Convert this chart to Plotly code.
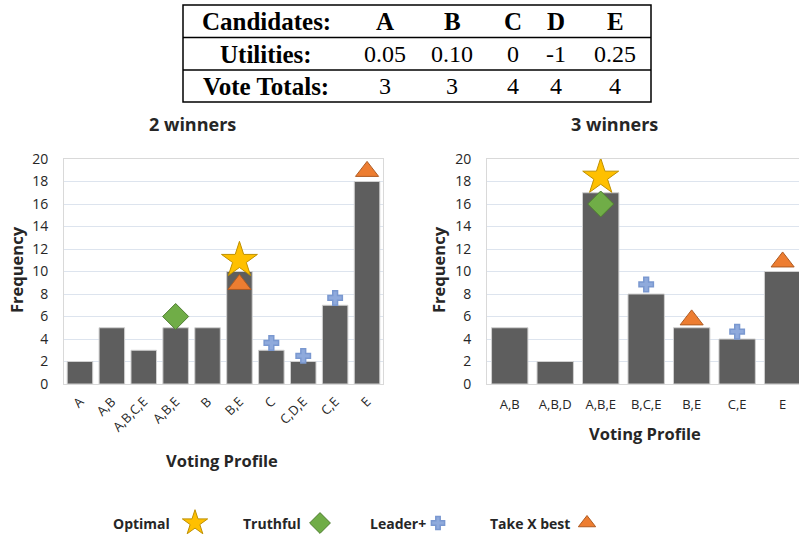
import plotly.graph_objects as go

# ---- table data ----
candidates = ["A", "B", "C", "D", "E"]
utilities = ["0.05", "0.10", "0", "-1", "0.25"]
vote_totals = ["3", "3", "4", "4", "4"]
row_labels = ["Candidates:", "Utilities:", "Vote Totals:"]

# ---- 2 winners ----
profiles_2 = ["A", "A,B", "A,B,C,E", "A,B,E", "B", "B,E", "C", "C,D,E", "C,E", "E"]
freq_2 = [2, 5, 3, 5, 5, 10, 3, 2, 7, 18]
optimal_2_x, optimal_2_y = ["B,E"], [11]
truthful_2_x, truthful_2_y = ["A,B,E"], [6]
leader_2_x, leader_2_y = ["C", "C,D,E", "C,E"], [3.65, 2.5, 7.65]
takex_2_x, takex_2_y = ["B,E", "E"], [8.85, 18.9]

# ---- 3 winners ----
profiles_3 = ["A,B", "A,B,D", "A,B,E", "B,C,E", "B,E", "C,E", "E"]
freq_3 = [5, 2, 17, 8, 5, 4, 10]
optimal_3_x, optimal_3_y = ["A,B,E"], [18.4]
truthful_3_x, truthful_3_y = ["A,B,E"], [16]
leader_3_x, leader_3_y = ["B,C,E", "C,E"], [8.85, 4.65]
takex_3_x, takex_3_y = ["B,E", "E"], [5.7, 10.85]

legend_names = ["Optimal", "Truthful", "Leader+", "Take X best"]

W, H = 799, 539
FONT = "Open Sans"
BAR = "#5e5e5e"

styles = {
    "Optimal": dict(symbol="star", color="#ffc000", line=dict(color="#bf9000", width=1), size=27),
    "Truthful": dict(symbol="diamond", color="#70ad47", line=dict(color="#507e32", width=1), size=20),
    "Leader+": dict(symbol="cross", color="#8faadc", line=dict(color="#7a98d0", width=1.5), size=12),
    "Take X best": dict(symbol="triangle-up", color="#ed7d31", line=dict(color="#ae5a21", width=1), size=20),
}

fig = go.Figure()

def add_panel(xa, ya, cats, vals, series):
    fig.add_trace(go.Bar(x=cats, y=vals, xaxis=xa, yaxis=ya, marker=dict(color=BAR, line=dict(color="#d0d0d0", width=1)),
                         showlegend=False))
    for name, xs, ys in series:
        fig.add_trace(go.Scatter(x=xs, y=ys, xaxis=xa, yaxis=ya, mode="markers", marker=styles[name],
                                 showlegend=False, cliponaxis=False))

add_panel("x", "y", profiles_2, freq_2, [
    ("Take X best", takex_2_x, takex_2_y),
    ("Leader+", leader_2_x, leader_2_y),
    ("Truthful", truthful_2_x, truthful_2_y),
    ("Optimal", optimal_2_x, optimal_2_y),
])
add_panel("x2", "y2", profiles_3, freq_3, [
    ("Take X best", takex_3_x, takex_3_y),
    ("Leader+", leader_3_x, leader_3_y),
    ("Truthful", truthful_3_x, truthful_3_y),
    ("Optimal", optimal_3_x, optimal_3_y),
])

# custom legend (text before the symbol), drawn on a pixel axis
leg_text_x = [172, 303, 428, 572]
leg_sym_x = [195, 320, 438, 587]
leg_sizes = [19, 16, 11, 15]
for name, tx, sx, sz in zip(legend_names, leg_text_x, leg_sym_x, leg_sizes):
    st = dict(styles[name])
    st["size"] = sz
    fig.add_trace(go.Scatter(x=[sx], y=[523], xaxis="x3", yaxis="y3", mode="markers", marker=st,
                             showlegend=False, cliponaxis=False))
    fig.add_annotation(x=tx, y=523, xref="x3", yref="y3", text="<b>" + name + "</b>", showarrow=False,
                       xanchor="right", yanchor="middle", font=dict(family=FONT, size=14, color="#262626"))

yax = dict(range=[0, 20], dtick=2, domain=[(H - 384) / H, (H - 159) / H], showgrid=True, gridcolor="#dde4ee",
           gridwidth=1, zeroline=False, showline=True, linecolor="#d9d9d9", mirror=True, ticks="",
           tickfont=dict(family=FONT, size=14, color="#262626"), ticklabelstandoff=12, fixedrange=True,
           automargin=False)
fig.update_layout(
    width=W, height=H, margin=dict(l=0, r=0, t=0, b=0, autoexpand=False),
    paper_bgcolor="white", plot_bgcolor="rgba(0,0,0,0)",
    bargap=0.2, showlegend=False,
    xaxis=dict(domain=[64 / W, 383 / W], type="category", range=[-0.5, 9.5], showline=True, linecolor="#d9d9d9",
               mirror=True, tickangle=-45, ticks="", tickfont=dict(family=FONT, size=13, color="#262626"),
               ticklabelstandoff=4, automargin=False),
    yaxis=dict(yax, anchor="x"),
    xaxis2=dict(domain=[487 / W, 1.0], type="category", range=[-0.5, 6.36], showline=True, linecolor="#d9d9d9",
                mirror=True, tickangle=0, ticks="", tickfont=dict(family=FONT, size=13, color="#262626"),
                ticklabelstandoff=8, anchor="y2", automargin=False),
    yaxis2=dict(yax, anchor="x2"),
    xaxis3=dict(domain=[0, 1], range=[0, W], visible=False, anchor="y3", automargin=False),
    yaxis3=dict(domain=[0, 1], range=[H, 0], visible=False, anchor="x3", automargin=False),
)

# panel titles and axis titles
for txt, x, y, ang, sz in [("2 winners", 192, 124, 0, 18), ("3 winners", 614, 124, 0, 18),
                           ("Frequency", 16, 270, -90, 16.5), ("Frequency", 438, 270, -90, 16.5),
                           ("Voting Profile", 222, 460, 0, 16.5), ("Voting Profile", 645, 433, 0, 16.5)]:
    fig.add_annotation(x=x, y=y, xref="x3", yref="y3", text="<b>" + txt + "</b>", showarrow=False,
                       textangle=ang, xanchor="center", yanchor="middle",
                       font=dict(family=FONT, size=sz, color="#262626"))

# table at the top
tfont = dict(family="Liberation Serif", size=24, color="black")
bfont = dict(family="Liberation Serif", size=25, color="black")
fig.add_shape(type="rect", x0=183, x1=651, y0=5, y1=102, xref="x3", yref="y3", line=dict(color="black", width=1.5))
for yl in [37.5, 70]:
    fig.add_shape(type="line", x0=183, x1=651, y0=yl, y1=yl, xref="x3", yref="y3", line=dict(color="black", width=1.5))
col_x = [385, 452, 513, 556, 615]
row_y = [21, 54, 86]
for lab, ry in zip(row_labels, row_y):
    fig.add_annotation(x=266, y=ry, xref="x3", yref="y3", text="<b>" + lab + "</b>", showarrow=False,
                       xanchor="center", yanchor="middle", font=bfont)
for vals, ry, b in [(candidates, row_y[0], True), (utilities, row_y[1], False), (vote_totals, row_y[2], False)]:
    for v, cx in zip(vals, col_x):
        fig.add_annotation(x=cx, y=ry, xref="x3", yref="y3", text=("<b>%s</b>" % v) if b else v, showarrow=False,
                           xanchor="center", yanchor="middle", font=bfont if b else tfont)

# pin the figure to the window origin (no page margin, no scrolling)
pin = ("document.documentElement.style.margin='0';document.body.style.margin='0';"
       "document.documentElement.style.overflow='hidden';document.body.style.overflow='hidden';"
       "var d=document.getElementById('{plot_id}');d.parentElement.style.position='fixed';"
       "d.parentElement.style.top='0';d.parentElement.style.left='0';")
fig.write_html("out.html", config={"displayModeBar": False}, post_script=pin)
